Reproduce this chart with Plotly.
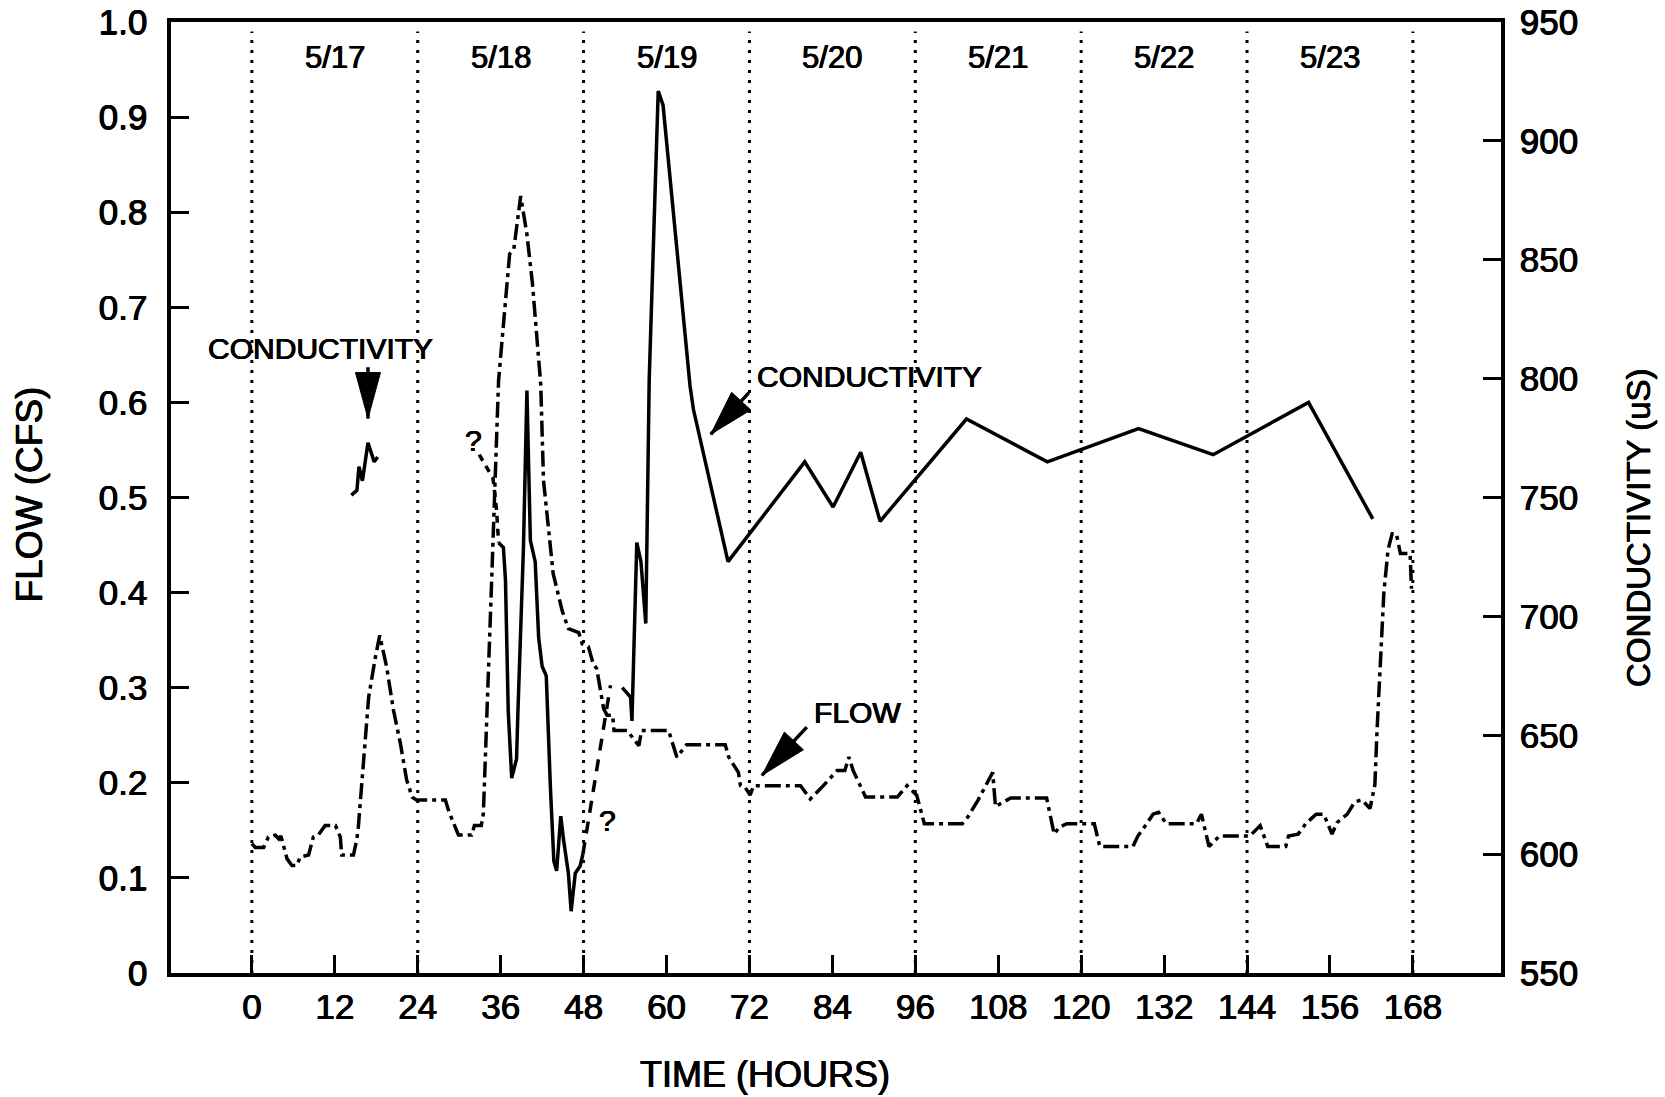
import math
import plotly.graph_objects as go

# ---- stream flow (CFS) vs. elapsed time (hours) ----
flow_hours = [
    0.0, 0.5, 1.7, 2.4, 3.4, 3.9, 4.2, 5.1, 5.8, 6.5,
    7.0, 8.2, 8.9, 9.6, 10.6, 12.1, 12.8, 13.0, 14.7, 15.2,
    15.4, 16.2, 16.9, 17.8, 18.5, 19.5, 20.5, 21.5, 22.4, 23.2,
    23.8, 28.0, 28.5, 29.9, 31.8, 32.2, 33.2, 33.5, 34.0, 34.7,
    35.2, 35.7, 36.5, 37.3, 37.9, 38.7, 38.9, 39.8, 40.6, 41.2,
    41.8, 42.2, 42.9, 43.6, 44.9, 45.8, 47.3, 47.8, 48.7, 49.4,
    49.9, 50.9, 51.4, 52.2, 52.4, 54.3, 56.0, 56.4, 60.3, 61.5,
    62.9, 68.5, 69.0, 70.4, 70.7, 71.4, 72.1, 72.6, 79.4, 80.8,
    82.7, 84.7, 85.8, 86.4, 87.0, 88.8, 93.4, 94.8, 96.2, 97.3,
    102.8, 103.6, 105.1, 107.2, 107.6, 108.8, 109.8, 115.0, 116.1, 116.8,
    117.9, 121.9, 122.7, 127.5, 128.2, 129.3, 130.4, 131.2, 132.3, 136.7,
    137.4, 138.5, 140.0, 144.4, 145.3, 145.9, 147.0, 149.6, 150.0, 151.4,
    152.5, 154.0, 155.1, 156.3, 157.0, 158.5, 159.6, 160.6, 161.8, 162.5,
    162.8, 163.3, 163.8, 164.4, 165.0, 165.6, 166.2, 167.6, 167.8,
]
flow_cfs = [
    0.136, 0.132, 0.132, 0.143, 0.145, 0.141, 0.144, 0.120, 0.113, 0.113,
    0.122, 0.124, 0.143, 0.145, 0.155, 0.155, 0.143, 0.124, 0.124, 0.141,
    0.153, 0.231, 0.290, 0.329, 0.355, 0.322, 0.276, 0.241, 0.203, 0.185,
    0.182, 0.182, 0.170, 0.145, 0.145, 0.155, 0.155, 0.168, 0.280, 0.413,
    0.518, 0.623, 0.690, 0.756, 0.761, 0.812, 0.817, 0.777, 0.725, 0.672,
    0.619, 0.518, 0.465, 0.420, 0.381, 0.362, 0.358, 0.346, 0.343, 0.325,
    0.320, 0.278, 0.271, 0.271, 0.255, 0.255, 0.239, 0.255, 0.255, 0.227,
    0.240, 0.240, 0.227, 0.211, 0.197, 0.195, 0.187, 0.197, 0.197, 0.183,
    0.197, 0.213, 0.213, 0.227, 0.213, 0.185, 0.185, 0.197, 0.187, 0.157,
    0.157, 0.164, 0.182, 0.211, 0.175, 0.180, 0.184, 0.184, 0.146, 0.153,
    0.157, 0.157, 0.133, 0.133, 0.144, 0.155, 0.167, 0.169, 0.157, 0.157,
    0.167, 0.133, 0.144, 0.144, 0.150, 0.155, 0.133, 0.133, 0.144, 0.146,
    0.157, 0.167, 0.167, 0.146, 0.158, 0.167, 0.180, 0.182, 0.173, 0.198,
    0.253, 0.330, 0.400, 0.445, 0.462, 0.462, 0.441, 0.441, 0.404,
]

# ---- specific conductivity (uS), recorded in separate pieces ----
cond_early_hours = [14.4, 15.2, 15.5, 16.0, 16.8, 17.7, 18.2]
cond_early_us = [751, 753, 763, 757, 773, 765, 767]

cond_doubt1_hours = [32.9, 34.9, 35.4, 35.7]
cond_doubt1_us = [768, 758, 745, 731]

cond_storm_hours = [35.7, 36.4, 36.7, 36.9, 37.1, 37.6, 38.3, 38.5, 39.3, 39.8,
                    40.3, 41.0, 41.5, 42.0, 42.6, 43.2, 43.7, 44.1, 44.7, 45.1,
                    45.8, 46.2, 46.8, 47.5, 47.9]
cond_storm_us = [731, 729, 715, 687, 660, 632, 640, 660, 729, 795,
                 732, 723, 691, 679, 675, 628, 597, 593, 616, 606,
                 592, 576, 592, 595, 600]

cond_doubt2_hours = [47.9, 51.9]
cond_doubt2_us = [600, 671]

cond_late_hours = [53.6, 54.8, 55.0, 55.7, 56.3, 57.0, 57.5, 58.8, 59.5, 63.4,
                   63.9, 68.9, 80.0, 84.1, 88.1, 90.9, 103.4, 115.1, 128.3, 139.1,
                   152.9, 162.2]
cond_late_us = [670, 666, 656, 731, 723, 697, 800, 921, 915, 797,
                787, 723, 765, 746, 769, 740, 783, 765, 779, 768,
                790, 741]

# ---- axes ----
hour_ticks = [0, 12, 24, 36, 48, 60, 72, 84, 96, 108, 120, 132, 144, 156, 168]
day_bounds = [0, 24, 48, 72, 96, 120, 144, 168]
day_labels = ["5/17", "5/18", "5/19", "5/20", "5/21", "5/22", "5/23"]
day_mid_hours = [12, 36, 60, 84, 108, 132, 156]
flow_ticks = [0, 0.1, 0.2, 0.3, 0.4, 0.5, 0.6, 0.7, 0.8, 0.9, 1.0]
flow_tick_text = ["0", "0.1", "0.2", "0.3", "0.4", "0.5", "0.6", "0.7", "0.8", "0.9", "1.0"]
cond_ticks = [550, 600, 650, 700, 750, 800, 850, 900, 950]

X_RANGE = [-11.7, 180.75]
W, H = 1665, 1097
M_L, M_R, M_T, M_B = 171, 164, 22, 124
PLOT_W = W - M_L - M_R
PLOT_H = H - M_T - M_B
PX_PER_HOUR = PLOT_W / (X_RANGE[1] - X_RANGE[0])
PX_PER_FLOW = PLOT_H / 1.0

FONT = "Liberation Sans, Arial, Helvetica, sans-serif"
INK = "#000000"
# slight stroke thickening for the printed lettering
HEAVY = "0.6px 0 0 #000, -0.4px 0 0 #000, 0 0.4px 0 #000"
LW = 3.5


def paper_x(px):
    return (px - M_L) / PLOT_W


def paper_y(py):
    return (H - M_B - py) / PLOT_H


def txt(size):
    return dict(family=FONT, size=size, color=INK, shadow=HEAVY)


fig = go.Figure()

FLOW_DASH = "16px,5px,4px,5px"
fig.add_trace(go.Scatter(x=flow_hours, y=flow_cfs, mode="lines",
                         line=dict(color=INK, width=LW, dash=FLOW_DASH),
                         showlegend=False, hoverinfo="skip"))

for hrs, vals, dash in [
    (cond_early_hours, cond_early_us, "solid"),
    (cond_doubt1_hours, cond_doubt1_us, "7px,6px"),
    (cond_storm_hours, cond_storm_us, "solid"),
    (cond_doubt2_hours, cond_doubt2_us, "12px,9px"),
    (cond_late_hours, cond_late_us, "solid"),
]:
    fig.add_trace(go.Scatter(x=hrs, y=vals, yaxis="y2", mode="lines",
                             line=dict(color=INK, width=LW, dash=dash),
                             showlegend=False, hoverinfo="skip"))

shapes = []
# dotted day boundaries
for h in day_bounds:
    shapes.append(dict(type="line", xref="x", yref="y", x0=h, x1=h, y0=0, y1=0.99,
                       line=dict(color=INK, width=3, dash="3px,7px"), layer="below"))


def arrow(start, tip, head_len, head_w):
    """Stem line plus a filled, pixel-sized triangular head."""
    sx, sy = start
    tx, ty = tip
    dx = (tx - sx) * PX_PER_HOUR
    dy = (ty - sy) * PX_PER_FLOW
    n = math.hypot(dx, dy)
    ux, uy = dx / n, dy / n
    bx, by = -head_len * ux, -head_len * uy
    px, py = -uy * head_w / 2, ux * head_w / 2
    path = (f"M 0,0 L {bx + px:.2f},{by + py:.2f} "
            f"L {bx - px:.2f},{by - py:.2f} Z")
    return [
        dict(type="line", xref="x", yref="y", x0=sx, y0=sy, x1=tx, y1=ty,
             line=dict(color=INK, width=3.5)),
        dict(type="path", xref="x", yref="y", xsizemode="pixel", ysizemode="pixel",
             xanchor=tx, yanchor=ty, path=path, fillcolor=INK,
             line=dict(color=INK, width=1)),
    ]


shapes += arrow((16.8, 0.637), (16.8, 0.583), 46, 25)
shapes += arrow((71.9, 0.610), (66.4, 0.5665), 45, 26)
shapes += arrow((80.3, 0.2586), (73.8, 0.2078), 47, 26)

annotations = []
for lab, h in zip(day_labels, day_mid_hours):
    annotations.append(dict(x=h, y=0.963, xref="x", yref="y", text=lab, showarrow=False,
                            xanchor="center", yanchor="middle", font=txt(31)))

annotations += [
    dict(x=9.9, y=0.6565, xref="x", yref="y", text="CONDUCTIVITY", showarrow=False,
         xanchor="center", yanchor="middle", font=txt(30)),
    dict(x=89.3, y=0.627, xref="x", yref="y", text="CONDUCTIVITY", showarrow=False,
         xanchor="center", yanchor="middle", font=txt(30)),
    dict(x=87.7, y=0.2735, xref="x", yref="y", text="FLOW", showarrow=False,
         xanchor="center", yanchor="middle", font=txt(30)),
    dict(x=32.1, y=0.56, xref="x", yref="y", text="?", showarrow=False,
         xanchor="center", yanchor="middle", font=txt(30)),
    dict(x=51.4, y=0.1605, xref="x", yref="y", text="?", showarrow=False,
         xanchor="center", yanchor="middle", font=txt(30)),
    # axis titles
    dict(x=paper_x(764.6), y=paper_y(1074.6), xref="paper", yref="paper",
         xanchor="center", yanchor="middle",
         text="TIME (HOURS)", showarrow=False, font=txt(36)),
    dict(x=paper_x(28.5), y=paper_y(495), xref="paper", yref="paper",
         xanchor="center", yanchor="middle",
         text="FLOW (CFS)", textangle=-90, showarrow=False, font=txt(37)),
    dict(x=paper_x(1638), y=paper_y(528), xref="paper", yref="paper",
         xanchor="center", yanchor="middle",
         text="CONDUCTIVITY (uS)", textangle=-90, showarrow=False, font=txt(33)),
]

tick_font = txt(35)
fig.update_layout(
    width=W, height=H,
    margin=dict(l=M_L, r=M_R, t=M_T, b=M_B, autoexpand=False),
    paper_bgcolor="white", plot_bgcolor="white",
    font=dict(family=FONT, color=INK),
    shapes=shapes, annotations=annotations,
    xaxis=dict(range=X_RANGE, tickvals=hour_ticks, ticks="inside", ticklen=18,
               tickwidth=3, tickcolor=INK, showgrid=False, zeroline=False,
               showline=True, linewidth=3.5, linecolor=INK, mirror=True,
               automargin=False, tickfont=tick_font, ticklabelstandoff=0),
    yaxis=dict(range=[0, 1.0], tickvals=flow_ticks, ticktext=flow_tick_text,
               ticks="inside", ticklen=18, tickwidth=3, tickcolor=INK,
               showgrid=False, zeroline=False, showline=True, linewidth=3.5,
               linecolor=INK, automargin=False, tickfont=tick_font,
               ticklabelstandoff=13),
    yaxis2=dict(range=[550, 950], tickvals=cond_ticks, overlaying="y", side="right",
                ticks="inside", ticklen=18, tickwidth=3, tickcolor=INK,
                showgrid=False, zeroline=False, showline=True, linewidth=3.5,
                linecolor=INK, automargin=False, tickfont=tick_font,
                ticklabelstandoff=8),
)

fig.write_html("out.html")
